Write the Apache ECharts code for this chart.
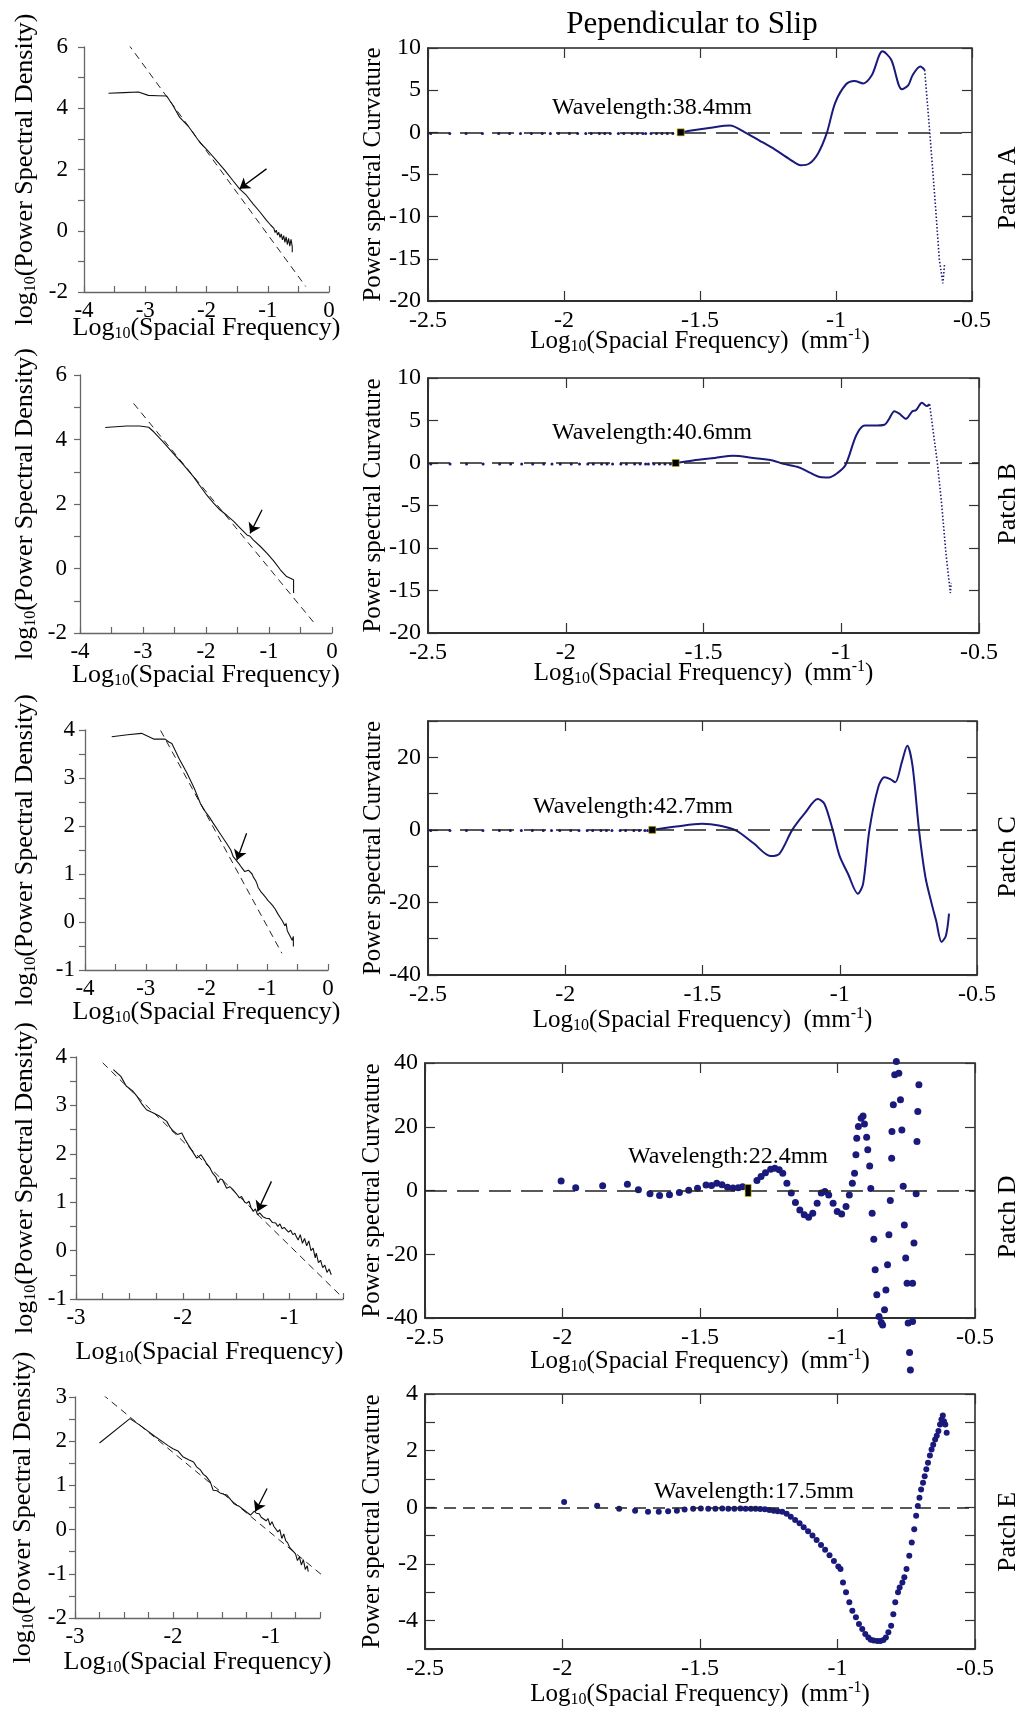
<!DOCTYPE html>
<html>
<head>
<meta charset="UTF-8">
<title>Power spectral density and curvature - Patches A-E</title>
<script src="https://cdn.jsdelivr.net/npm/echarts@6/dist/echarts.min.js"></script>
<style>
  body { margin: 0; padding: 0; background: #fff; }
  #chart { width: 1024px; height: 1710px; }
</style>
</head>
<body>
<div id="chart"></div>
<script>
var serif = 'Liberation Serif';
var navy = '#1a1a7c';

// ---- left column: log10 PSD vs log10 spatial frequency ----
var psdA = [[-3.60,4.49],[-3.35,4.51],[-3.11,4.53],[-2.95,4.42],[-2.80,4.41],[-2.65,4.40],[-2.55,4.10],[-2.44,3.71],[-2.30,3.42],[-2.11,2.89],[-1.98,2.62],[-1.84,2.30],[-1.70,1.97],[-1.57,1.64],[-1.46,1.37],[-1.35,1.16],[-1.24,0.88],[-1.13,0.62],[-1.02,0.34],[-0.95,0.18],[-0.90,0.08],[-0.88,-0.06],[-0.86,0.02],[-0.84,-0.14],[-0.82,-0.05],[-0.80,-0.22],[-0.78,-0.10],[-0.76,-0.30],[-0.74,-0.16],[-0.72,-0.38],[-0.70,-0.20],[-0.68,-0.45],[-0.66,-0.25],[-0.64,-0.50],[-0.62,-0.28],[-0.60,-0.52],[-0.60,-0.70]];
var psdB = [[-3.60,4.37],[-3.26,4.42],[-3.05,4.42],[-2.91,4.38],[-2.83,4.24],[-2.67,3.90],[-2.52,3.57],[-2.35,3.20],[-2.20,2.85],[-2.08,2.52],[-1.99,2.28],[-1.96,2.25],[-1.88,2.03],[-1.78,1.82],[-1.67,1.65],[-1.56,1.46],[-1.45,1.24],[-1.35,1.04],[-1.30,1.00],[-1.25,0.89],[-1.14,0.69],[-1.03,0.47],[-0.92,0.22],[-0.82,-0.04],[-0.72,-0.25],[-0.61,-0.35],[-0.61,-0.76]];
var psdC = [[-3.56,3.86],[-3.30,3.90],[-3.07,3.93],[-2.87,3.81],[-2.68,3.81],[-2.62,3.75],[-2.57,3.72],[-2.45,3.40],[-2.32,3.10],[-2.20,2.78],[-2.10,2.47],[-2.02,2.30],[-1.95,2.18],[-1.89,2.06],[-1.78,1.85],[-1.67,1.64],[-1.60,1.50],[-1.56,1.36],[-1.52,1.30],[-1.47,1.22],[-1.43,1.15],[-1.40,1.12],[-1.37,1.05],[-1.34,1.01],[-1.31,1.08],[-1.28,1.05],[-1.25,1.00],[-1.23,0.94],[-1.21,0.97],[-1.19,0.86],[-1.17,0.80],[-1.15,0.72],[-1.13,0.70],[-1.11,0.64],[-1.09,0.68],[-1.07,0.58],[-1.05,0.62],[-1.03,0.52],[-1.01,0.55],[-0.99,0.45],[-0.97,0.48],[-0.95,0.40],[-0.93,0.44],[-0.91,0.34],[-0.89,0.37],[-0.87,0.27],[-0.85,0.30],[-0.83,0.18],[-0.81,0.22],[-0.79,0.10],[-0.77,0.14],[-0.75,0.02],[-0.73,0.05],[-0.71,-0.08],[-0.69,-0.03],[-0.67,-0.18],[-0.65,-0.14],[-0.63,-0.28],[-0.61,-0.24],[-0.59,-0.38],[-0.57,-0.30],[-0.57,-0.51]];
var psdD = [[-2.65,3.74],[-2.58,3.60],[-2.53,3.40],[-2.47,3.30],[-2.43,3.19],[-2.38,3.02],[-2.34,2.91],[-2.28,2.85],[-2.22,2.78],[-2.15,2.67],[-2.12,2.55],[-2.09,2.47],[-2.05,2.40],[-2.01,2.43],[-1.98,2.30],[-1.95,2.19],[-1.91,2.05],[-1.87,1.91],[-1.83,1.98],[-1.80,1.88],[-1.78,1.81],[-1.75,1.72],[-1.72,1.60],[-1.69,1.52],[-1.67,1.40],[-1.65,1.48],[-1.63,1.47],[-1.61,1.38],[-1.59,1.29],[-1.56,1.32],[-1.53,1.26],[-1.50,1.18],[-1.47,1.09],[-1.45,1.12],[-1.42,1.00],[-1.40,0.98],[-1.38,1.02],[-1.36,0.88],[-1.34,0.81],[-1.32,0.86],[-1.30,0.74],[-1.28,0.78],[-1.25,0.70],[-1.22,0.67],[-1.19,0.66],[-1.16,0.58],[-1.13,0.57],[-1.11,0.50],[-1.09,0.55],[-1.07,0.45],[-1.05,0.48],[-1.03,0.43],[-1.01,0.38],[-0.99,0.42],[-0.97,0.33],[-0.95,0.36],[-0.94,0.30],[-0.92,0.22],[-0.90,0.33],[-0.88,0.15],[-0.86,0.25],[-0.84,0.10],[-0.82,0.20],[-0.80,0.00],[-0.78,0.05],[-0.76,-0.15],[-0.75,-0.05],[-0.73,-0.25],[-0.71,-0.20],[-0.69,-0.35],[-0.67,-0.30],[-0.65,-0.45],[-0.63,-0.38],[-0.61,-0.50]];
var psdE = [[-2.75,1.96],[-2.44,2.51],[-2.35,2.38],[-2.27,2.25],[-2.18,2.10],[-2.10,1.98],[-2.05,1.90],[-2.00,1.83],[-1.95,1.78],[-1.90,1.65],[-1.84,1.58],[-1.79,1.53],[-1.76,1.42],[-1.72,1.35],[-1.69,1.25],[-1.66,1.20],[-1.62,1.08],[-1.59,0.89],[-1.55,0.88],[-1.52,0.83],[-1.48,0.80],[-1.45,0.78],[-1.42,0.70],[-1.38,0.59],[-1.35,0.55],[-1.32,0.52],[-1.28,0.45],[-1.24,0.38],[-1.21,0.33],[-1.20,0.29],[-1.17,0.42],[-1.15,0.37],[-1.12,0.36],[-1.10,0.28],[-1.08,0.29],[-1.05,0.20],[-1.03,0.25],[-1.01,0.10],[-0.99,0.18],[-0.97,0.07],[-0.95,0.10],[-0.93,-0.05],[-0.91,0.00],[-0.89,-0.20],[-0.87,-0.10],[-0.85,-0.25],[-0.83,-0.30],[-0.81,-0.40],[-0.79,-0.38],[-0.77,-0.50],[-0.75,-0.55],[-0.73,-0.70],[-0.71,-0.62],[-0.69,-0.80],[-0.67,-0.68],[-0.65,-0.90],[-0.63,-0.82],[-0.62,-0.95]];

// dashed power-law fits (end points) and arrows (tail, head)
var fitA = [[-3.40,6.43],[-0.38,-1.82]];
var fitB = [[-3.15,5.12],[-0.29,-1.67]];
var fitC = [[-2.85,4.21],[-0.76,-0.65]];
var fitD = [[-2.75,3.88],[-0.49,-1.00]];
var fitE = [[-2.72,3.06],[-0.38,-1.21]];
var arrowA = [[-1.02,2.02],[-1.46,1.37]];
var arrowB = [[-1.11,1.82],[-1.30,1.09]];
var arrowC = [[-1.34,1.85],[-1.50,1.29]];
var arrowD = [[-1.17,1.43],[-1.30,0.81]];
var arrowE = [[-1.04,0.93],[-1.16,0.41]];

// ---- right column: power spectral curvature ----
var lowFreqX = [-2.49,-2.42,-2.36,-2.30,-2.24,-2.20,-2.16,-2.12,-2.08,-2.05,-2.02,-1.98,-1.95,-1.92,-1.90,-1.87,-1.85,-1.83,-1.80,-1.78,-1.75,-1.73,-1.71,-1.70,-1.68,-1.66,-1.64,-1.62,-1.60];
var lowLevel = [-0.15, -0.12, -0.2];
var curvA = [[-1.571,0],[-1.538,0.2],[-1.46,0.55],[-1.39,0.8],[-1.335,0],[-1.28,-1.0],[-1.224,-2.05],[-1.17,-3.2],[-1.129,-3.9],[-1.098,-3.7],[-1.066,-2.5],[-1.034,-0.1],[-1.003,3.5],[-0.963,5.7],[-0.932,6.1],[-0.900,5.8],[-0.868,6.8],[-0.829,9.6],[-0.797,8.6],[-0.758,5.1],[-0.734,5.6],[-0.718,6.8],[-0.690,7.8],[-0.674,7.4]];
var curvATail = [[-0.674,7.4],[-0.655,-0.1],[-0.636,-8.0],[-0.620,-15.1],[-0.607,-17.9],[-0.601,-15.7]];
var curvB = [[-1.603,0],[-1.538,0.3],[-1.459,0.6],[-1.392,0.86],[-1.319,0.6],[-1.249,0.3],[-1.210,-0.1],[-1.155,-0.5],[-1.116,-1.1],[-1.077,-1.65],[-1.046,-1.7],[-1.015,-1.2],[-0.984,-0.2],[-0.945,3.3],[-0.914,4.4],[-0.882,4.4],[-0.843,4.5],[-0.828,5.1],[-0.807,6.1],[-0.789,5.8],[-0.765,5.2],[-0.742,6.1],[-0.729,6.2],[-0.707,7.1],[-0.690,6.7],[-0.679,6.9]];
var curvBTail = [[-0.679,6.9],[-0.667,3.9],[-0.651,0],[-0.636,-4.7],[-0.620,-10.6],[-0.604,-15.3],[-0.601,-14.1]];
var curvC = [[-1.683,0],[-1.596,0.9],[-1.502,1.65],[-1.440,1.2],[-1.377,-0.2],[-1.314,-3.7],[-1.252,-7.2],[-1.220,-6.6],[-1.173,0],[-1.127,4.6],[-1.080,8.5],[-1.056,7.2],[-1.025,-0.2],[-1.001,-7.1],[-0.970,-12.1],[-0.934,-17.6],[-0.915,-14.9],[-0.892,0],[-0.860,11.7],[-0.837,14.5],[-0.816,14.0],[-0.798,13.1],[-0.774,18.6],[-0.754,23.2],[-0.735,17.7],[-0.711,-0.2],[-0.688,-13.0],[-0.665,-20.4],[-0.649,-25.0],[-0.629,-30.9],[-0.613,-29.1],[-0.602,-23.1]];
var curvD = [[-2.005,3.0],[-1.952,0.9],[-1.854,1.5],[-1.764,2.0],[-1.724,0.2],[-1.682,-1.0],[-1.647,-1.6],[-1.611,-1.3],[-1.575,-0.6],[-1.541,0.1],[-1.509,0.7],[-1.478,1.7],[-1.458,1.6],[-1.439,2.3],[-1.420,1.8],[-1.400,1.0],[-1.380,0.8],[-1.361,0.9],[-1.345,1.2],[-1.293,3.1],[-1.278,4.4],[-1.262,5.6],[-1.243,6.7],[-1.228,7.0],[-1.212,6.5],[-1.199,5.4],[-1.184,2.3],[-1.168,-0.8],[-1.153,-3.8],[-1.137,-6.1],[-1.121,-7.6],[-1.105,-8.4],[-1.090,-7.1],[-1.074,-4.0],[-1.059,-0.8],[-1.046,-0.3],[-1.032,-1.4],[-1.016,-4.0],[-1.001,-6.6],[-0.985,-7.4],[-0.969,-5.0],[-0.957,-1.4],[-0.946,2.3],[-0.938,5.4],[-0.933,11.2],[-0.930,16.4],[-0.924,20.1],[-0.914,22.7],[-0.907,23.4],[-0.902,20.9],[-0.894,16.7],[-0.890,12.8],[-0.883,7.7],[-0.879,0.6],[-0.874,-7.1],[-0.868,-15.3],[-0.863,-24.9],[-0.857,-32.7],[-0.849,-39.5],[-0.841,-41.4],[-0.836,-42.2],[-0.829,-37.4],[-0.824,-31.2],[-0.818,-23.3],[-0.813,-13.9],[-0.808,-3.1],[-0.803,10.1],[-0.802,18.5],[-0.797,26.9],[-0.792,36.3],[-0.786,40.5],[-0.777,36.8],[-0.771,28.5],[-0.766,19.0],[-0.761,1.3],[-0.757,-10.8],[-0.752,-21.2],[-0.747,-29.1],[-0.743,-41.6],[-0.738,-50.8],[-0.735,-56.3],[-0.727,-29.1],[-0.727,-41.1],[-0.722,-16.5],[-0.714,-1.0],[-0.711,15.4],[-0.708,24.8],[-0.704,33.2]];
var curvE = [[-1.994,0.19],[-1.874,0.06],[-1.794,-0.05],[-1.736,-0.12],[-1.689,-0.16],[-1.650,-0.16],[-1.616,-0.14],[-1.584,-0.12],[-1.556,-0.08],[-1.525,-0.05],[-1.497,-0.04],[-1.470,-0.05],[-1.444,-0.05],[-1.419,-0.04],[-1.397,-0.05],[-1.375,-0.05],[-1.353,-0.04],[-1.334,-0.05],[-1.315,-0.05],[-1.298,-0.05],[-1.281,-0.06],[-1.264,-0.07],[-1.248,-0.09],[-1.232,-0.12],[-1.217,-0.14],[-1.201,-0.16],[-1.185,-0.23],[-1.170,-0.33],[-1.154,-0.45],[-1.138,-0.56],[-1.123,-0.70],[-1.107,-0.84],[-1.091,-0.99],[-1.076,-1.15],[-1.060,-1.33],[-1.045,-1.50],[-1.029,-1.69],[-1.013,-1.89],[-0.997,-2.09],[-0.989,-2.18],[-0.980,-2.65],[-0.969,-3.00],[-0.957,-3.35],[-0.946,-3.65],[-0.933,-3.88],[-0.922,-4.12],[-0.910,-4.29],[-0.899,-4.47],[-0.888,-4.59],[-0.879,-4.67],[-0.868,-4.70],[-0.855,-4.72],[-0.844,-4.72],[-0.833,-4.68],[-0.824,-4.59],[-0.815,-4.41],[-0.805,-4.18],[-0.797,-3.77],[-0.790,-3.35],[-0.780,-3.00],[-0.774,-2.83],[-0.764,-2.65],[-0.757,-2.47],[-0.749,-2.18],[-0.739,-1.71],[-0.730,-1.24],[-0.721,-0.77],[-0.714,-0.30],[-0.708,0.05],[-0.702,0.34],[-0.696,0.63],[-0.689,0.87],[-0.683,1.10],[-0.677,1.34],[-0.671,1.57],[-0.664,1.83],[-0.658,2.04],[-0.652,2.21],[-0.645,2.39],[-0.639,2.53],[-0.633,2.69],[-0.627,2.92],[-0.622,3.10],[-0.617,3.24],[-0.613,3.04],[-0.608,2.92],[-0.603,2.63]];

var waveMarkX = [-1.571, -1.601, -1.683, -1.325];
var waveText = ['Wavelength:38.4mm', 'Wavelength:40.6mm', 'Wavelength:42.7mm', 'Wavelength:22.4mm', 'Wavelength:17.5mm'];
var patchNames = ['Patch A', 'Patch B', 'Patch C', 'Patch D', 'Patch E'];

// axis specs: [min, max, tick step, label step]
var leftX = [[-4, 0, 0.5, 1], [-4, 0, 0.5, 1], [-4, 0, 0.5, 1], [-3, -0.5, 0.25, 1], [-3, -0.5, 0.25, 1]];
var leftY = [[-2, 6, 1, 2], [-2, 6, 1, 2], [-1, 4, 0.5, 1], [-1, 4, 0.5, 1], [-2, 3, 0.5, 1]];
var rightX = [-2.5, -0.5, 0.5, 0.5];
var rightY = [[-20, 10, 5, 5], [-20, 10, 5, 5], [-40, 30, 10, 20], [-40, 40, 20, 20], [-5, 4, 1, 2]];

// layout (pixels)
var leftBox = [[84, 47, 245, 245], [80, 375, 252, 258], [85, 730, 243, 240], [76, 1057, 267, 242], [75, 1397, 245, 221]];
var leftGaps = [[16, 23, 46], [13, 29, 42], [10, 29, 47], [9, 40, 38], [8, 31, 39]]; // y label margin, x name gap, y name gap
var rightBox = [[428, 48, 544, 253], [428, 378, 551, 255], [428, 721, 549, 254], [425, 1063, 550, 255], [425, 1394, 550, 255]];
var rightGaps = [[28, 42], [28, 42], [33, 42], [31, 40], [33, 40]];
var waveLabelPos = [[652, 108], [652, 433], [633, 807], [728, 1157], [754, 1492]];
var patchLabelY = [188, 504, 857, 1217, 1532];

function labelEvery(step) {
  return function (v) {
    var r = v / step;
    return Math.abs(r - Math.round(r)) < 1e-6 ? String(Math.round(v * 100) / 100) : '';
  };
}

function nameStyle(size) {
  var s = Math.round(size * 0.62);
  return {
    fontFamily: serif, fontSize: size, color: '#000',
    rich: {
      m: { fontFamily: serif, fontSize: size, lineHeight: size, color: '#000' },
      s: { fontFamily: serif, fontSize: s, lineHeight: s, padding: [Math.round(size * 0.45), 0, 0, 0], color: '#000' },
      p: { fontFamily: serif, fontSize: s, lineHeight: s, padding: [0, 0, Math.round(size * 0.5), 0], color: '#000' }
    }
  };
}

var option = {
  animation: false,
  backgroundColor: '#fff',
  grid: [], xAxis: [], yAxis: [], series: [], graphic: []
};

// left column
leftBox.forEach(function (b, i) {
  var g = option.grid.length;
  option.grid.push({ left: b[0], top: b[1], width: b[2], height: b[3], outerBoundsMode: 'none' });
  var axisCol = '#666';
  var xi = option.xAxis.length;
  option.xAxis.push({
    gridIndex: g, type: 'value', min: leftX[i][0], max: leftX[i][1], interval: leftX[i][2],
    axisLine: { show: true, onZero: false, lineStyle: { color: axisCol, width: 1.3 } },
    axisTick: { show: true, inside: true, length: 6, lineStyle: { color: axisCol, width: 1.2 } },
    axisLabel: { formatter: labelEvery(leftX[i][3]), fontFamily: serif, fontSize: 23, color: '#000', margin: 7 },
    splitLine: { show: false },
    name: '{m|Log}{s|10}{m|(Spacial Frequency)}', nameLocation: 'middle', nameGap: leftGaps[i][1],
    nameMoveOverlap: false, nameTextStyle: nameStyle(26)
  });
  var yi = option.yAxis.length;
  option.yAxis.push({
    gridIndex: g, type: 'value', min: leftY[i][0], max: leftY[i][1], interval: leftY[i][2],
    axisLine: { show: true, onZero: false, lineStyle: { color: axisCol, width: 1.3 } },
    axisTick: { show: true, inside: false, length: 6, lineStyle: { color: axisCol, width: 1.2 } },
    axisLabel: { formatter: labelEvery(leftY[i][3]), fontFamily: serif, fontSize: 23, color: '#000', margin: leftGaps[i][0] },
    splitLine: { show: false },
    name: '{m|log}{s|10}{m|(Power Spectral Density)}', nameLocation: 'middle', nameGap: leftGaps[i][2],
    nameMoveOverlap: false, nameTextStyle: nameStyle(26)
  });
  var psd = [psdA, psdB, psdC, psdD, psdE][i];
  var fit = [fitA, fitB, fitC, fitD, fitE][i];
  var arrow = [arrowA, arrowB, arrowC, arrowD, arrowE][i];
  option.series.push({
    type: 'line', xAxisIndex: xi, yAxisIndex: yi, data: psd, symbol: 'none',
    lineStyle: { color: '#111', width: 1.1 }, z: 3
  });
  option.series.push({
    type: 'line', xAxisIndex: xi, yAxisIndex: yi, data: fit, symbol: 'none',
    lineStyle: { color: '#222', width: 1, type: [7, 5] }, z: 2,
    markLine: {
      silent: true, symbol: ['none', 'arrow'], symbolSize: 10,
      label: { show: false },
      lineStyle: { color: '#000', width: 1.3, type: 'solid' },
      data: [[{ coord: arrow[0] }, { coord: arrow[1] }]]
    }
  });
});

// right column
rightBox.forEach(function (b, i) {
  var g = option.grid.length;
  option.grid.push({ left: b[0], top: b[1], width: b[2], height: b[3], show: true, borderColor: '#222', borderWidth: 1.5, outerBoundsMode: 'none' });
  var tickStyle = { color: '#333', width: 1.2 };
  var xi = option.xAxis.length;
  option.xAxis.push({
    gridIndex: g, type: 'value', min: rightX[0], max: rightX[1], interval: rightX[2],
    axisLine: { show: true, onZero: false, lineStyle: { color: '#222', width: 1.5 } },
    axisTick: { show: true, inside: true, length: 10, lineStyle: tickStyle },
    axisLabel: { formatter: labelEvery(rightX[3]), fontFamily: serif, fontSize: 24, color: '#000', margin: 8 },
    splitLine: { show: false },
    name: '{m|Log}{s|10}{m|(Spacial Frequency)  (mm}{p|-1}{m|)}', nameLocation: 'middle', nameGap: rightGaps[i][0],
    nameMoveOverlap: false, nameTextStyle: nameStyle(25)
  });
  option.xAxis.push({
    gridIndex: g, type: 'value', position: 'top', min: rightX[0], max: rightX[1], interval: rightX[2],
    axisLine: { show: false, onZero: false },
    axisTick: { show: true, inside: true, length: 10, lineStyle: tickStyle },
    axisLabel: { show: false }, splitLine: { show: false }
  });
  var yi = option.yAxis.length;
  option.yAxis.push({
    gridIndex: g, type: 'value', min: rightY[i][0], max: rightY[i][1], interval: rightY[i][2],
    axisLine: { show: true, onZero: false, lineStyle: { color: '#222', width: 1.5 } },
    axisTick: { show: true, inside: true, length: 10, lineStyle: tickStyle },
    axisLabel: { formatter: labelEvery(rightY[i][3]), fontFamily: serif, fontSize: 24, color: '#000', margin: 7 },
    splitLine: { show: false },
    name: 'Power spectral Curvature', nameLocation: 'middle', nameGap: rightGaps[i][1],
    nameMoveOverlap: false, nameTextStyle: { fontFamily: serif, fontSize: 25, color: '#000' }
  });
  option.yAxis.push({
    gridIndex: g, type: 'value', position: 'right', min: rightY[i][0], max: rightY[i][1], interval: rightY[i][2],
    axisLine: { show: false, onZero: false },
    axisTick: { show: true, inside: true, length: 10, lineStyle: tickStyle },
    axisLabel: { show: false }, splitLine: { show: false }
  });

  var zeroLine = {
    silent: true, symbol: 'none', label: { show: false },
    lineStyle: { color: '#222', width: 1.7, type: i === 4 ? [12, 7] : [22, 10] },
    data: [{ yAxis: 0 }]
  };

  if (i < 3) {
    var curve = [curvA, curvB, curvC][i];
    var low = lowFreqX.filter(function (x) { return x < waveMarkX[i] - 0.005; })
      .map(function (x) { return [x, lowLevel[i]]; });
    option.series.push({
      type: 'scatter', xAxisIndex: xi, yAxisIndex: yi, data: low, symbolSize: 3,
      itemStyle: { color: navy, opacity: 1 }, z: 3, markLine: zeroLine
    });
    option.series.push({
      type: 'line', xAxisIndex: xi, yAxisIndex: yi, data: curve, symbol: 'none', smooth: 0.3,
      lineStyle: { color: navy, width: 2 }, z: 4
    });
    var tail = [curvATail, curvBTail, null][i];
    if (tail) {
      option.series.push({
        type: 'line', xAxisIndex: xi, yAxisIndex: yi, data: tail, symbol: 'none',
        lineStyle: { color: navy, width: 1.6, type: [1.5, 2] }, z: 4
      });
    }
  } else {
    var pts = [curvD, curvE][i - 3];
    option.series.push({
      type: 'scatter', xAxisIndex: xi, yAxisIndex: yi, data: pts, clip: false,
      symbolSize: i === 3 ? 7 : 6, itemStyle: { color: navy, opacity: 1 }, z: 4, markLine: zeroLine
    });
  }
  if (i < waveMarkX.length) {
    option.series.push({
      type: 'scatter', xAxisIndex: xi, yAxisIndex: yi, data: [[waveMarkX[i], 0]],
      symbol: 'rect', symbolSize: i === 3 ? [6, 12] : 7,
      itemStyle: { color: '#000', opacity: 1, borderColor: '#c8b400', borderWidth: 0.6 }, z: 6
    });
  }

  option.graphic.push({
    type: 'text', x: waveLabelPos[i][0], y: waveLabelPos[i][1], z: 10,
    style: { text: waveText[i], fontFamily: serif, fontSize: 24, fill: '#000', align: 'center', verticalAlign: 'middle' }
  });
  option.graphic.push({
    type: 'text', x: 1008, y: patchLabelY[i], rotation: Math.PI / 2, z: 10,
    style: { text: patchNames[i], fontFamily: serif, fontSize: 26, fill: '#000', align: 'center', verticalAlign: 'middle' }
  });
});

option.graphic.push({
  type: 'text', x: 692, y: 25, z: 10,
  style: { text: 'Pependicular to Slip', fontFamily: serif, fontSize: 31, fill: '#000', align: 'center', verticalAlign: 'middle' }
});

var chart = echarts.init(document.getElementById('chart'), null, { renderer: 'canvas' });
chart.setOption(option);
</script>
</body>
</html>
